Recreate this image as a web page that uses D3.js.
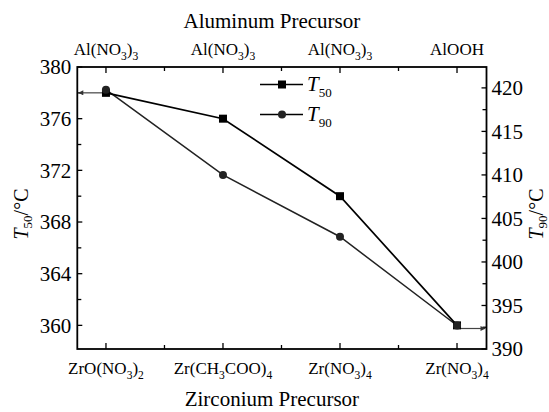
<!DOCTYPE html>
<html><head><meta charset="utf-8">
<script src="https://cdn.jsdelivr.net/npm/d3@7"></script>
<style>
body{margin:0;background:#fff;}
svg text{font-family:"Liberation Serif","Times New Roman",Times,serif;}
</style></head>
<body><svg id="chart" width="549" height="412" font-family="Liberation Serif"></svg>
<script>
const zrCategories = ["ZrO(NO3)2", "Zr(CH3COO)4", "Zr(NO3)4", "Zr(NO3)4"];
const alCategories = ["Al(NO3)3", "Al(NO3)3", "Al(NO3)3", "AlOOH"];
const t50Values = [378, 376, 370, 360];
const t90Values = [419.8, 410, 402.9, 392.7];
const leftTicks = [360, 364, 368, 372, 376, 380];
const rightTicks = [390, 395, 400, 405, 410, 415, 420];

const svg = d3.select("#chart");
const L = 77.3, R = 486.5, T = 67, B = 349;
const x = d3.scaleLinear().domain([-0.245, 3.252]).range([L, R]);
const yL = d3.scaleLinear().domain([358.17, 380]).range([B, T]);
const yR = d3.scaleLinear().domain([390, 422.4]).range([B, T]);

function formula(sel, str, fs) {
  let sub = false;
  for (const ch of str) {
    const isDigit = /[0-9]/.test(ch);
    if (isDigit && !sub) { sel.append("tspan").attr("dy", fs*0.3).attr("font-size", fs*0.68).text(ch); sub = true; }
    else if (isDigit && sub) { sel.append("tspan").attr("font-size", fs*0.68).text(ch); }
    else if (!isDigit && sub) { sel.append("tspan").attr("dy", -fs*0.3).text(ch); sub = false; }
    else sel.append("tspan").text(ch);
  }
}

const cats = d3.range(zrCategories.length);
const minorX = [0.5, 1.5, 2.5];
const g = svg.append("g").attr("stroke", "#000").attr("stroke-width", 1.3);
cats.forEach(i => {
  g.append("line").attr("x1", x(i)).attr("x2", x(i)).attr("y1", B).attr("y2", B-6);
  g.append("line").attr("x1", x(i)).attr("x2", x(i)).attr("y1", T).attr("y2", T+6);
});
minorX.forEach(v => {
  g.append("line").attr("x1", x(v)).attr("x2", x(v)).attr("y1", B).attr("y2", B-4);
  g.append("line").attr("x1", x(v)).attr("x2", x(v)).attr("y1", T).attr("y2", T+4);
});
d3.range(360, 380.1, 2).forEach(v => {
  const major = v % 4 === 0;
  g.append("line").attr("x1", L).attr("x2", L + (major ? 5 : 4)).attr("y1", yL(v)).attr("y2", yL(v));
});
d3.range(390, 422.1, 2.5).forEach(v => {
  const major = v % 5 === 0;
  g.append("line").attr("x1", R).attr("x2", R - (major ? 5 : 4)).attr("y1", yR(v)).attr("y2", yR(v));
});

svg.append("rect").attr("x", L).attr("y", T).attr("width", R-L).attr("height", B-T)
  .attr("fill", "none").attr("stroke", "#000").attr("stroke-width", 1.8);

svg.append("g").selectAll("text").data(leftTicks).join("text")
  .attr("x", L-6).attr("y", d => yL(d)).attr("dy", "0.35em")
  .attr("text-anchor", "end").attr("font-size", 21).text(d => d);
svg.append("g").selectAll("text").data(rightTicks).join("text")
  .attr("x", R+5).attr("y", d => yR(d)).attr("dy", "0.35em")
  .attr("text-anchor", "start").attr("font-size", 21).text(d => d);

cats.forEach(i => {
  const tb = svg.append("text").attr("x", x(i)).attr("y", 374).attr("text-anchor", "middle").attr("font-size", 17);
  formula(tb, zrCategories[i], 17);
  const tt = svg.append("text").attr("x", x(i)).attr("y", 55).attr("text-anchor", "middle").attr("font-size", 17);
  formula(tt, alCategories[i], 17);
});

svg.append("text").attr("x", (L+R)/2 - 10).attr("y", 406).attr("text-anchor", "middle").attr("font-size", 21).text("Zirconium Precursor");
svg.append("text").attr("x", (L+R)/2 - 10).attr("y", 28).attr("text-anchor", "middle").attr("font-size", 21).text("Aluminum Precursor");

function yTitle(xp, yp, sub) {
  const t = svg.append("text").attr("transform", `translate(${xp},${yp}) rotate(-90)`)
    .attr("text-anchor", "middle").attr("font-size", 20);
  t.append("tspan").attr("font-style", "italic").text("T");
  t.append("tspan").attr("font-size", 13).attr("dy", 4).text(sub);
  t.append("tspan").attr("dy", -4).text("/°C");
}
yTitle(28, 214, "50");
yTitle(543, 214, "90");

const defs = svg.append("defs");
defs.append("marker").attr("id", "arr").attr("viewBox", "0 0 10 10").attr("refX", 10).attr("refY", 5)
  .attr("markerWidth", 7).attr("markerHeight", 5).attr("markerUnits", "userSpaceOnUse").attr("orient", "auto")
  .append("path").attr("d", "M0,0L10,5L0,10z").attr("fill", "#333");
svg.append("line").attr("x1", x(0)).attr("x2", L+1).attr("y1", yL(t50Values[0])).attr("y2", yL(t50Values[0]))
  .attr("stroke", "#444").attr("stroke-width", 1.2).attr("marker-end", "url(#arr)");
svg.append("line").attr("x1", x(3)).attr("x2", R-1).attr("y1", yR(t90Values[3]) + 3).attr("y2", yR(t90Values[3]) + 3)
  .attr("stroke", "#444").attr("stroke-width", 1.2).attr("marker-end", "url(#arr)");

const line50 = d3.line().x((d, i) => x(i)).y(d => yL(d));
const line90 = d3.line().x((d, i) => x(i)).y(d => yR(d));
svg.append("path").attr("d", line90(t90Values)).attr("fill", "none").attr("stroke", "#222").attr("stroke-width", 1.5);
svg.append("path").attr("d", line50(t50Values)).attr("fill", "none").attr("stroke", "#000").attr("stroke-width", 1.7);
svg.append("g").selectAll("rect").data(t50Values).join("rect")
  .attr("x", (d, i) => x(i) - 4).attr("y", d => yL(d) - 4).attr("width", 8).attr("height", 8).attr("fill", "#000");
svg.append("g").selectAll("circle").data(t90Values).join("circle")
  .attr("cx", (d, i) => x(i)).attr("cy", d => yR(d)).attr("r", 4).attr("fill", "#222");

const legend = [{name: "50", shape: "rect", y: 84.5}, {name: "90", shape: "circle", y: 114.5}];
legend.forEach(l => {
  svg.append("line").attr("x1", 260).attr("x2", 303).attr("y1", l.y).attr("y2", l.y).attr("stroke", "#000").attr("stroke-width", 1.5);
  if (l.shape === "rect") svg.append("rect").attr("x", 278).attr("y", l.y-4).attr("width", 8).attr("height", 8).attr("fill", "#000");
  else svg.append("circle").attr("cx", 282).attr("cy", l.y).attr("r", 4).attr("fill", "#222");
  const t = svg.append("text").attr("x", 307).attr("y", l.y + 6).attr("font-size", 21);
  t.append("tspan").attr("font-style", "italic").text("T");
  t.append("tspan").attr("font-size", 13).attr("dy", 6).text(l.name);
});
</script></body></html>
